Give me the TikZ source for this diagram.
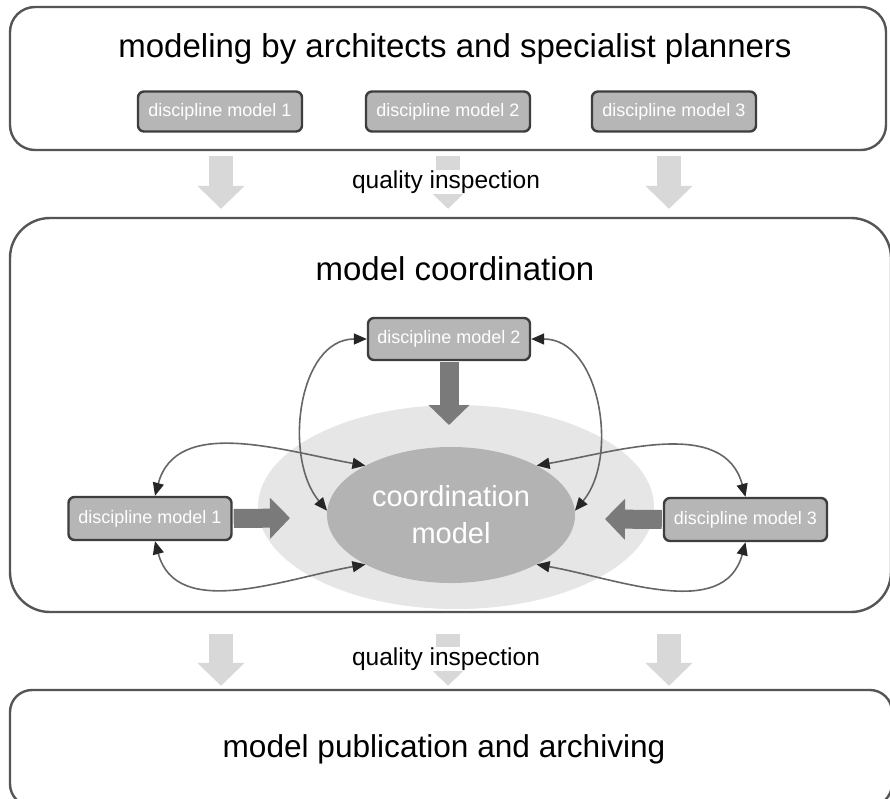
\documentclass[tikz,border=0pt]{standalone}
\usepackage{fontspec}
\setmainfont{Liberation Sans}
\usetikzlibrary{arrows.meta,shapes.geometric,calc}

\definecolor{framegray}{HTML}{555555}
\definecolor{boxfill}{HTML}{B6B6B6}
\definecolor{boxline}{HTML}{3E3E3E}
\definecolor{halo}{HTML}{E6E6E6}
\definecolor{core}{HTML}{B3B3B3}
\definecolor{flowgray}{HTML}{D8D8D8}
\definecolor{pushgray}{HTML}{7A7A7A}
\definecolor{linkgray}{HTML}{666666}

\newcommand{\fs}[1]{\fontsize{#1}{1.15\dimexpr#1pt\relax}\selectfont}

\tikzset{
  stage/.style={draw=framegray, line width=2.4pt, fill=white, inner sep=0pt},
  stagetitle/.style={anchor=base, inner sep=0pt, font=\fs{33}},
  discbox/.style={draw=boxline, fill=boxfill, line width=2.4pt, rounded corners=6pt,
    minimum width=164pt, minimum height=40pt, inner sep=0pt, text=white,
    font=\fs{18}, text height=13pt, text depth=3.5pt},
  qflow/.style={draw=flowgray, line width=24pt, -{Triangle[length=23pt,width=46pt]}},
  qlabel/.style={anchor=base, fill=white, inner xsep=1pt, inner ysep=0.5pt, font=\fs{24.5}},
  push/.style={draw=pushgray, line width=19pt, -{Triangle[length=20pt,width=40pt]}},
  link/.style={draw=linkgray, line width=1.6pt,
    {Triangle[length=13pt,width=11pt,color=black!85]}-{Triangle[length=13pt,width=11pt,color=black!85]}}
}

\begin{document}
\begin{tikzpicture}[x=1pt,y=1pt]
\clip (0,0) rectangle (890,-798);
\fill[white] (0,0) rectangle (890,-798);

% the three stages
\node[stage, rounded corners=25pt, minimum width=876pt, minimum height=143pt] (top) at (448,-78.5) {};
\node[stage, rounded corners=40pt, minimum width=881pt, minimum height=394pt] (mid) at (450.5,-415) {};
\node[stage, rounded corners=22pt, minimum width=882pt, minimum height=116pt] (bot) at (451,-748) {};

\node[stagetitle] (topT) at (455,-57) {modeling by architects and specialist planners};
\node[stagetitle] (midT) at (455,-280) {model coordination};
\node[stagetitle, font=\fs{31.6}] (botT) at (444,-757) {model publication and archiving};

% discipline models delivered by the planners
\node[discbox] (tA) at (220,-111.5) {discipline model 1};
\node[discbox] (tB) at (448,-111.5) {discipline model 2};
\node[discbox] (tC) at (674,-111.5) {discipline model 3};

% quality gates between the stages
\foreach \s/\dx in {tA/1pt, tB/0pt, tC/-5pt} {
  \draw[qflow, shorten <=5pt, shorten >=8pt] ([xshift=\dx]\s.south |- top.south) -- ([xshift=\dx]\s.south |- mid.north);
  \draw[qflow, shorten <=21pt, shorten >=3pt] ([xshift=\dx]\s.south |- mid.south) -- ([xshift=\dx]\s.south |- bot.north);
}
\node[qlabel] (q1) at (446,-188) {quality inspection};
\node[qlabel] (q2) at (446,-665) {quality inspection};

% coordination model with its surrounding zone
\node[ellipse, fill=halo, minimum width=396pt, minimum height=204pt] (zone) at (456,-507) {};
\node[ellipse, fill=core, minimum width=248pt, minimum height=136pt, inner sep=0pt,
      text=white, align=center, font=\fontsize{29}{37}\selectfont] (cm) at (451,-515) {coordination\\model};

% discipline models inside the coordination loop
\node[discbox, minimum width=162pt, minimum height=42pt] (d2) at (449,-339) {discipline model 2};
\node[discbox, minimum width=163pt, minimum height=43pt] (d1) at (150,-518.5) {discipline model 1};
\node[discbox, minimum width=163pt, minimum height=43pt] (d3) at (745.5,-519.5) {discipline model 3};

\coordinate (d2tip) at (449,-425);
\coordinate (d1tip) at (290,-518);
\coordinate (d3tip) at (605,-519);
\draw[push, shorten <=1pt] (d2.south) -- (d2tip);
\draw[push, shorten <=1pt] (d1.east) -- (d1tip);
\draw[push, shorten <=1pt] (d3.west) -- (d3tip);

% two-way exchange with the coordination model
\draw[link] ([xshift=5pt]d1.north) to[out=75,in=170] (cm.150);
\draw[link] ([xshift=5pt]d1.south) to[out=-75,in=190] (cm.210);
\draw[link] (d3.north) to[out=105,in=10] (cm.30);
\draw[link] (d3.south) to[out=-105,in=-10] (cm.-30);
\draw[link] (d2.west) to[out=180,in=130] (cm.178);
\draw[link] (d2.east) to[out=0,in=50] (cm.2);
\end{tikzpicture}
\end{document}
